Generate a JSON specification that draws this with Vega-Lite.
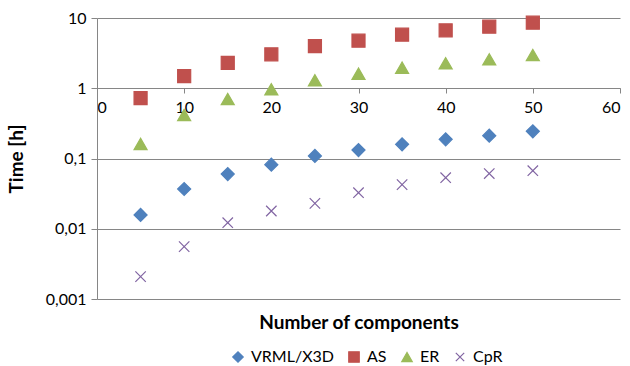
{
  "$schema": "https://vega.github.io/schema/vega-lite/v6.json",
  "autosize": "none",
  "width": 523,
  "height": 281,
  "padding": {"left": 97, "top": 18, "right": 10, "bottom": 67},
  "background": "white",
  "config": {
    "view": {"stroke": null},
    "font": "Lato",
    "axis": {"labelFont": "Lato", "titleFont": "Lato", "labelColor": "#000000", "titleColor": "#000000"}
  },
  "data": {
    "values": [
      {"series": "VRML/X3D", "n": 5, "time": 0.0157},
      {"series": "VRML/X3D", "n": 10, "time": 0.0368},
      {"series": "VRML/X3D", "n": 15, "time": 0.0601},
      {"series": "VRML/X3D", "n": 20, "time": 0.0817},
      {"series": "VRML/X3D", "n": 25, "time": 0.1086},
      {"series": "VRML/X3D", "n": 30, "time": 0.132},
      {"series": "VRML/X3D", "n": 35, "time": 0.159},
      {"series": "VRML/X3D", "n": 40, "time": 0.1875},
      {"series": "VRML/X3D", "n": 45, "time": 0.211},
      {"series": "VRML/X3D", "n": 50, "time": 0.244},
      {"series": "AS", "n": 5, "time": 0.726},
      {"series": "AS", "n": 10, "time": 1.49},
      {"series": "AS", "n": 15, "time": 2.29},
      {"series": "AS", "n": 20, "time": 3.04},
      {"series": "AS", "n": 25, "time": 3.99},
      {"series": "AS", "n": 30, "time": 4.75},
      {"series": "AS", "n": 35, "time": 5.79},
      {"series": "AS", "n": 40, "time": 6.67},
      {"series": "AS", "n": 45, "time": 7.52},
      {"series": "AS", "n": 50, "time": 8.57},
      {"series": "ER", "n": 5, "time": 0.161},
      {"series": "ER", "n": 10, "time": 0.416},
      {"series": "ER", "n": 15, "time": 0.703},
      {"series": "ER", "n": 20, "time": 0.966},
      {"series": "ER", "n": 25, "time": 1.3},
      {"series": "ER", "n": 30, "time": 1.61},
      {"series": "ER", "n": 35, "time": 1.96},
      {"series": "ER", "n": 40, "time": 2.27},
      {"series": "ER", "n": 45, "time": 2.58},
      {"series": "ER", "n": 50, "time": 2.97},
      {"series": "CpR", "n": 5, "time": 0.00208},
      {"series": "CpR", "n": 10, "time": 0.00556},
      {"series": "CpR", "n": 15, "time": 0.0122},
      {"series": "CpR", "n": 20, "time": 0.0179},
      {"series": "CpR", "n": 25, "time": 0.023},
      {"series": "CpR", "n": 30, "time": 0.0326},
      {"series": "CpR", "n": 35, "time": 0.0425},
      {"series": "CpR", "n": 40, "time": 0.0533},
      {"series": "CpR", "n": 45, "time": 0.061},
      {"series": "CpR", "n": 50, "time": 0.0671}
    ]
  },
  "mark": {"type": "point", "filled": false, "opacity": 1, "strokeWidth": 1.2},
  "encoding": {
    "x": {
      "field": "n",
      "type": "quantitative",
      "scale": {"domain": [0, 60], "nice": false, "zero": false},
      "axis": {
        "orient": "bottom",
        "offset": -211,
        "values": [0, 10, 20, 30, 40, 50, 60],
        "grid": false,
        "domainColor": "#868686",
        "tickColor": "#868686",
        "tickSize": 5,
        "labelFontSize": 16,
        "labelPadding": 6,
        "title": "Number of components",
        "titleFontSize": 19,
        "titleFontWeight": "bold",
        "titleBaseline": "middle",
        "titleY": 234
      }
    },
    "y": {
      "field": "time",
      "type": "quantitative",
      "scale": {"type": "log", "domain": [0.001, 10], "nice": false},
      "axis": {
        "values": [0.001, 0.01, 0.1, 1, 10],
        "labelExpr": "replace(toString(datum.value), '.', ',')",
        "grid": true,
        "gridColor": "#868686",
        "gridWidth": 1,
        "domainColor": "#868686",
        "tickColor": "#868686",
        "tickSize": 6,
        "labelFontSize": 16,
        "labelPadding": 5,
        "title": "Time [h]",
        "titleFontSize": 19,
        "titleFontWeight": "bold",
        "titleX": -71,
        "titleBaseline": "bottom"
      }
    },
    "fill": {
      "field": "series",
      "type": "nominal",
      "scale": {"domain": ["VRML/X3D", "AS", "ER", "CpR"], "range": ["#4F81BD", "#C0504D", "#9BBB59", "transparent"]},
      "legend": {
        "orient": "none",
        "direction": "horizontal",
        "legendX": 133,
        "legendY": 331,
        "title": null,
        "labelFontSize": 16,
        "labelFont": "Lato",
        "labelColor": "#000000",
        "symbolSize": 110,
        "symbolStrokeWidth": 1.2,
        "labelOffset": 5,
        "columnPadding": 12
      }
    },
    "stroke": {
      "field": "series",
      "type": "nominal",
      "scale": {"domain": ["VRML/X3D", "AS", "ER", "CpR"], "range": ["#4F81BD", "#C0504D", "#9BBB59", "#8064A2"]}
    },
    "shape": {
      "field": "series",
      "type": "nominal",
      "scale": {"domain": ["VRML/X3D", "AS", "ER", "CpR"], "range": ["diamond", "square", "triangle-up", "M-0.8,-0.8L0.8,0.8M-0.8,0.8L0.8,-0.8"]}
    },
    "size": {"value": 170}
  }
}
